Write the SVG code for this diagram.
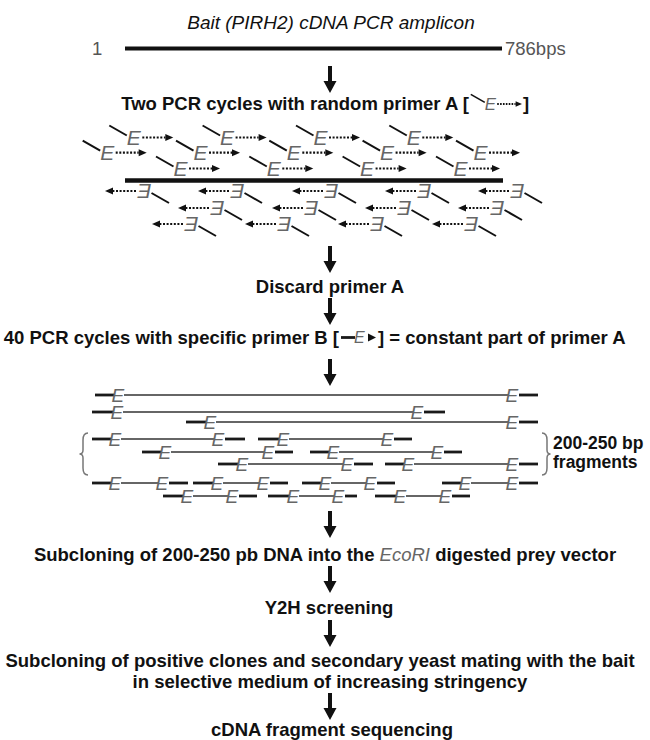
<svg xmlns="http://www.w3.org/2000/svg" xmlns:xlink="http://www.w3.org/1999/xlink" width="650" height="740" viewBox="0 0 650 740">
<style>
.t{font-family:"Liberation Sans",Arial,sans-serif;font-size:18.5px;font-weight:bold;fill:#111}
.ti{font-family:"Liberation Sans",Arial,sans-serif;font-size:19px;font-style:italic;fill:#111}
.g{font-family:"Liberation Sans",Arial,sans-serif;font-size:18.5px;fill:#555}
.gi{font-weight:normal;font-style:italic;fill:#666}
.e{font-family:"Liberation Sans",Arial,sans-serif;font-style:italic;font-size:19px;fill:#666}
.pe{font-family:"Liberation Sans",Arial,sans-serif;font-style:italic;font-size:21px;fill:#666}
.thin{stroke:#333;stroke-width:1.4}
.dash{stroke:#1a1a1a;stroke-width:2.8}
.diag{stroke:#111;stroke-width:2}
.dot{stroke:#111;stroke-width:2.2;stroke-dasharray:2 1.6}
.brace{fill:none;stroke:#777;stroke-width:1.5}
.lbl{font-family:"Liberation Sans",Arial,sans-serif;font-size:17.5px;font-weight:bold;fill:#111}
</style>
<defs>
<path id="ar" d="M-2,0H2V15H6.5L0,27L-6.5,15H-2Z" fill="#111"/>
<g id="pf">
<line class="diag" x1="-19" y1="-12" x2="-1.5" y2="-2"/>
<text class="pe" x="-1.5" y="7.5">E</text>
<line class="dot" x1="14" y1="0" x2="37" y2="0"/>
<polygon points="37,-3.5 45,0 37,3.5" fill="#111"/>
</g>
</defs>

<g id="bait">
<text class="ti" x="331" y="29" text-anchor="middle">Bait (PIRH2) cDNA PCR amplicon</text>
<text class="g" x="92" y="55">1</text>
<line x1="125" y1="48.5" x2="502" y2="48.5" stroke="#111" stroke-width="4"/>
<text class="g" x="505" y="55">786bps</text>
</g>

<g id="step1">
<text class="t" x="469" y="110" text-anchor="end">Two PCR cycles with random primer A [</text>
<use xlink:href="#pf" transform="translate(486,104) scale(0.8)"/>
<text class="t" x="523" y="110">]</text>
</g>

<g id="primersA">
<use xlink:href="#pf" x="128.3" y="137.5"/>
<use xlink:href="#pf" x="221.6" y="137.5"/>
<use xlink:href="#pf" x="315" y="137.5"/>
<use xlink:href="#pf" x="408.3" y="137.5"/>
<use xlink:href="#pf" x="101.7" y="152.7"/>
<use xlink:href="#pf" x="195" y="152.7"/>
<use xlink:href="#pf" x="288.3" y="152.7"/>
<use xlink:href="#pf" x="381.6" y="152.7"/>
<use xlink:href="#pf" x="475" y="152.7"/>
<use xlink:href="#pf" x="175" y="168.5"/>
<use xlink:href="#pf" x="268.3" y="168.5"/>
<use xlink:href="#pf" x="361.6" y="168.5"/>
<use xlink:href="#pf" x="455" y="168.5"/>
<line x1="125" y1="180.5" x2="503" y2="180.5" stroke="#111" stroke-width="4.5"/>
<use xlink:href="#pf" transform="translate(150,191) rotate(180)"/>
<use xlink:href="#pf" transform="translate(243,191) rotate(180)"/>
<use xlink:href="#pf" transform="translate(337,191) rotate(180)"/>
<use xlink:href="#pf" transform="translate(430,191) rotate(180)"/>
<use xlink:href="#pf" transform="translate(523,191) rotate(180)"/>
<use xlink:href="#pf" transform="translate(223,208) rotate(180)"/>
<use xlink:href="#pf" transform="translate(317,208) rotate(180)"/>
<use xlink:href="#pf" transform="translate(410,208) rotate(180)"/>
<use xlink:href="#pf" transform="translate(503,208) rotate(180)"/>
<use xlink:href="#pf" transform="translate(197,224) rotate(180)"/>
<use xlink:href="#pf" transform="translate(290,224) rotate(180)"/>
<use xlink:href="#pf" transform="translate(383,224) rotate(180)"/>
<use xlink:href="#pf" transform="translate(477,224) rotate(180)"/>
</g>

<g id="step2">
<text class="t" x="330" y="293" text-anchor="middle">Discard primer A</text>
</g>

<g id="step3">
<text class="t" x="339" y="344" text-anchor="end">40 PCR cycles with specific primer B [</text>
<line class="dash" x1="341" y1="337.5" x2="355" y2="337.5"/>
<text class="e" x="354" y="343" style="font-size:16px">E</text>
<polygon points="368,333.5 376,337.5 368,341.5" fill="#111"/>
<text class="t" x="378" y="344">] = constant part of primer A</text>
</g>

<g id="fragments">
<!-- F1 -->
<line class="dash" x1="95" y1="395" x2="114" y2="395"/><text class="e" x="111.6" y="401.8">E</text>
<line class="thin" x1="124" y1="395" x2="508" y2="395"/><text class="e" x="505.6" y="401.8">E</text>
<line class="dash" x1="519" y1="395" x2="538" y2="395"/>
<!-- F2 -->
<line class="dash" x1="92" y1="412" x2="113" y2="412"/><text class="e" x="110.6" y="418.8">E</text>
<line class="thin" x1="123" y1="412" x2="413" y2="412"/><text class="e" x="410.6" y="418.8">E</text>
<line class="dash" x1="424" y1="412" x2="445" y2="412"/>
<!-- F3 -->
<line class="dash" x1="186" y1="422" x2="206" y2="422"/><text class="e" x="203.6" y="428.8">E</text>
<line class="thin" x1="216" y1="422" x2="508" y2="422"/><text class="e" x="505.6" y="428.8">E</text>
<line class="dash" x1="519" y1="422" x2="538" y2="422"/>
<!-- F4 -->
<line class="dash" x1="92" y1="439" x2="111" y2="439"/><text class="e" x="108.6" y="445.8">E</text>
<line class="thin" x1="121" y1="439" x2="214" y2="439"/><text class="e" x="211.6" y="445.8">E</text>
<line class="dash" x1="225" y1="439" x2="245" y2="439"/>
<line class="dash" x1="258" y1="439" x2="279" y2="439"/><text class="e" x="276.6" y="445.8">E</text>
<line class="thin" x1="289" y1="439" x2="383" y2="439"/><text class="e" x="380.6" y="445.8">E</text>
<line class="dash" x1="394" y1="439" x2="412" y2="439"/>
<!-- F5 -->
<line class="dash" x1="142" y1="452" x2="161" y2="452"/><text class="e" x="158.6" y="458.8">E</text>
<line class="thin" x1="171" y1="452" x2="264" y2="452"/><text class="e" x="261.6" y="458.8">E</text>
<line class="dash" x1="275" y1="452" x2="293" y2="452"/>
<line class="dash" x1="310" y1="452" x2="329" y2="452"/><text class="e" x="326.6" y="458.8">E</text>
<line class="thin" x1="339" y1="452" x2="433" y2="452"/><text class="e" x="430.6" y="458.8">E</text>
<line class="dash" x1="444" y1="452" x2="462" y2="452"/>
<!-- F6 -->
<line class="dash" x1="218" y1="464" x2="238" y2="464"/><text class="e" x="235.6" y="470.8">E</text>
<line class="thin" x1="248" y1="464" x2="343" y2="464"/><text class="e" x="340.6" y="470.8">E</text>
<line class="dash" x1="354" y1="464" x2="373" y2="464"/>
<line class="dash" x1="385" y1="464" x2="404" y2="464"/><text class="e" x="401.6" y="470.8">E</text>
<line class="thin" x1="414" y1="464" x2="508" y2="464"/><text class="e" x="505.6" y="470.8">E</text>
<line class="dash" x1="519" y1="464" x2="538" y2="464"/>
<!-- G1 -->
<line class="dash" x1="92" y1="483" x2="111" y2="483"/><text class="e" x="108.6" y="489.8">E</text>
<line class="thin" x1="121" y1="483" x2="158" y2="483"/><text class="e" x="155.6" y="489.8">E</text>
<line class="dash" x1="169" y1="483" x2="188" y2="483"/>
<line class="dash" x1="193" y1="483" x2="213" y2="483"/><text class="e" x="210.6" y="489.8">E</text>
<line class="thin" x1="223" y1="483" x2="259" y2="483"/><text class="e" x="256.6" y="489.8">E</text>
<line class="dash" x1="270" y1="483" x2="288" y2="483"/>
<line class="dash" x1="302" y1="483" x2="321" y2="483"/><text class="e" x="318.6" y="489.8">E</text>
<line class="thin" x1="331" y1="483" x2="366" y2="483"/><text class="e" x="363.6" y="489.8">E</text>
<line class="dash" x1="377" y1="483" x2="395" y2="483"/>
<line class="dash" x1="442" y1="483" x2="461" y2="483"/><text class="e" x="458.6" y="489.8">E</text>
<line class="thin" x1="471" y1="483" x2="508" y2="483"/><text class="e" x="505.6" y="489.8">E</text>
<line class="dash" x1="519" y1="483" x2="538" y2="483"/>
<!-- G2 -->
<line class="dash" x1="163" y1="496" x2="183" y2="496"/><text class="e" x="180.6" y="502.8">E</text>
<line class="thin" x1="193" y1="496" x2="228" y2="496"/><text class="e" x="225.6" y="502.8">E</text>
<line class="dash" x1="239" y1="496" x2="257" y2="496"/>
<line class="dash" x1="268" y1="496" x2="289" y2="496"/><text class="e" x="286.6" y="502.8">E</text>
<line class="thin" x1="299" y1="496" x2="334" y2="496"/><text class="e" x="331.6" y="502.8">E</text>
<line class="dash" x1="345" y1="496" x2="357" y2="496"/>
<line class="dash" x1="375" y1="496" x2="396" y2="496"/><text class="e" x="393.6" y="502.8">E</text>
<line class="thin" x1="406" y1="496" x2="441" y2="496"/><text class="e" x="438.6" y="502.8">E</text>
<line class="dash" x1="452" y1="496" x2="470" y2="496"/>
<!-- braces -->
<path class="brace" d="M88,433 Q83,433 83,440 L83,450 Q83,454 79.5,454 Q83,454 83,458 L83,468 Q83,475 88,475"/>
<path class="brace" d="M542,433 Q547,433 547,440 L547,450 Q547,454 550.5,454 Q547,454 547,458 L547,468 Q547,475 542,475"/>
<text class="lbl" x="553" y="449">200-250 bp</text>
<text class="lbl" x="553" y="468">fragments</text>
</g>

<g id="step4">
<text class="t" x="325" y="561" text-anchor="middle">Subcloning of 200-250 pb DNA into the <tspan class="gi">EcoRI</tspan> digested prey vector</text>
</g>
<g id="step5">
<text class="t" x="329" y="614" text-anchor="middle">Y2H screening</text>
</g>
<g id="step6">
<text class="t" x="320" y="667" text-anchor="middle">Subcloning of positive clones and secondary yeast mating with the bait</text>
<text class="t" x="330" y="688" text-anchor="middle">in selective medium of increasing stringency</text>
</g>
<g id="step7">
<text class="t" x="332" y="736" text-anchor="middle">cDNA fragment sequencing</text>
</g>

<g id="connectors">
<use xlink:href="#ar" x="330" y="66"/>
<use xlink:href="#ar" x="330" y="246"/>
<use xlink:href="#ar" x="330" y="298"/>
<use xlink:href="#ar" x="330" y="359"/>
<use xlink:href="#ar" x="330" y="511"/>
<use xlink:href="#ar" x="330" y="566"/>
<use xlink:href="#ar" x="330" y="620"/>
<use xlink:href="#ar" x="330" y="693"/>
</g>
</svg>
